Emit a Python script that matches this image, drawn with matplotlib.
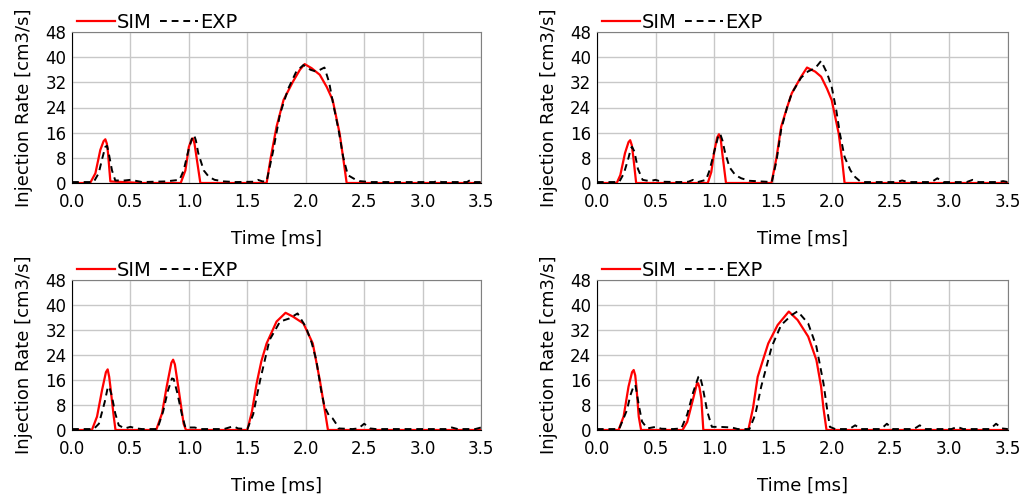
"""
Injection rate traces, simulation vs experiment, for four injection strategies.
"""

import matplotlib
matplotlib.use('Agg')
import matplotlib.pyplot as plt
from matplotlib.ticker import MultipleLocator

# Panel A (top left)
sim_a_t = [0.0, 0.155, 0.2, 0.242, 0.27, 0.285, 0.298, 0.308, 0.328, 0.6, 0.93, 0.97, 1.0,
           1.025, 1.035, 1.048, 1.06, 1.098,
           1.665, 1.70, 1.75, 1.81, 1.89, 1.95, 1.99, 2.05, 2.12, 2.18, 2.23, 2.29, 2.32, 2.35, 3.5]
sim_a_q = [0, 0, 3.1, 10.5, 13.3, 13.9, 12.5, 9.5, 0.5, 0, 0, 4, 11.5,
           14, 14.2, 12.5, 9.5, 0,
           0, 8, 17.9, 26.4, 32.2, 36, 37.8, 36.5, 34.4, 30.5, 26.4, 15.7, 8, 0, 0]
exp_a_t = [0.0, 0.185, 0.228, 0.26, 0.285, 0.3, 0.314, 0.342, 0.37, 0.45, 0.5, 0.6, 0.8,
           0.92, 0.955, 1.0, 1.03, 1.045, 1.06, 1.08, 1.127, 1.17, 1.22, 1.3, 1.4, 1.55, 1.59,
           1.63, 1.665, 1.72, 1.78, 1.85, 1.92, 1.98, 2.04, 2.09, 2.16, 2.2, 2.23, 2.28, 2.32,
           2.36, 2.42, 2.46, 2.55, 3.1, 3.13, 3.16, 3.38, 3.41, 3.44, 3.5]
exp_a_q = [0.3, 0.3, 3.1, 8, 11.5, 11.8, 9.5, 4, 0.8, 0.8, 1, 0.3, 0.5,
           1, 4, 11, 14.5, 15.2, 13.5, 9.5, 4, 2, 1, 0.5, 0.3, 0.4, 1,
           0.5, 0.5, 10, 22, 30, 35.5, 37.5, 36, 35.4, 36.7, 32, 26, 17, 8.3,
           2.5, 1.2, 0.6, 0.3, 0.3, 0.8, 0.3, 0.3, 1, 0.3, 0.3]

# Panel B (top right)
sim_b_t = [0, 0.17, 0.2, 0.24, 0.27, 0.284, 0.298, 0.31, 0.335, 0.945, 0.975, 1.0, 1.025,
           1.04, 1.055, 1.07, 1.1,
           1.487, 1.53, 1.57, 1.62, 1.66, 1.74, 1.79, 1.86, 1.91, 1.96, 2.0, 2.06, 2.09, 2.11, 3.5]
sim_b_q = [0, 0, 2.5, 9.5, 13, 13.6, 12, 8.5, 0, 0, 3.5, 10, 14.5,
           15.5, 14, 9, 0,
           0, 8, 17.9, 24, 28.5, 33.8, 36.7, 35.4, 33.8, 30, 26.4, 15.7, 7, 0, 0]
exp_b_t = [0, 0.19, 0.23, 0.27, 0.29, 0.30, 0.32, 0.35, 0.39, 0.45, 0.5, 0.55, 0.7, 0.78,
           0.82, 0.86, 0.93, 0.96, 1.0, 1.035, 1.05, 1.07, 1.09, 1.13, 1.18, 1.23, 1.3, 1.49,
           1.53, 1.57, 1.62, 1.66, 1.74, 1.80, 1.86, 1.91, 1.96, 2.0, 2.04, 2.07, 2.11, 2.16,
           2.2, 2.25, 2.55, 2.6, 2.65, 2.85, 2.9, 2.95, 3.15, 3.2, 3.25, 3.42, 3.46, 3.5]
exp_b_q = [0.3, 0.3, 3, 8, 11, 11.5, 10, 4.5, 1, 0.6, 1, 0.4, 0.3, 0.4,
           1, 0.3, 1, 4, 10, 15, 15.7, 13.5, 10, 5, 2.5, 1.5, 0.7, 0.3,
           7, 17, 24, 28.5, 33.5, 35.5, 36.5, 38.8, 35, 30.6, 23, 15.7, 8.3, 4,
           1.9, 0.3, 0.3, 0.8, 0.3, 0.3, 1.5, 0.3, 0.3, 1, 0.3, 0.3, 0.6, 0.3]

# Panel C (bottom left)
sim_c_t = [0, 0.17, 0.214, 0.257, 0.29, 0.305, 0.318, 0.328, 0.357, 0.372, 0.72, 0.77, 0.81,
           0.85, 0.865, 0.88, 0.913, 0.955, 0.975,
           1.5, 1.54, 1.58, 1.62, 1.665, 1.75, 1.827, 1.89, 1.98, 2.06, 2.12, 2.16, 2.19, 3.5]
sim_c_q = [0, 0, 4.3, 12.8, 18.5, 19.4, 17, 13.9, 4.3, 0, 0, 5.3, 13.9,
           21.5, 22.5, 21, 12.8, 2, 0,
           0, 6, 15, 22, 27.7, 34.7, 37.5, 36.3, 34.1, 27.7, 16, 7, 0, 0]
exp_c_t = [0, 0.185, 0.23, 0.28, 0.305, 0.318, 0.34, 0.37, 0.4, 0.45, 0.5, 0.55, 0.6, 0.73,
           0.78, 0.82, 0.855, 0.87, 0.9, 0.94, 0.97, 1.05, 1.1, 1.3, 1.38, 1.42, 1.5, 1.55,
           1.61, 1.69, 1.78, 1.86, 1.93, 2.0, 2.05, 2.09, 2.13, 2.16, 2.2, 2.23, 2.26, 2.28,
           2.4, 2.45, 2.5, 2.55, 2.6, 3.2, 3.25, 3.3, 3.45, 3.5]
exp_c_q = [0.3, 0.3, 2, 9, 13.5, 13.9, 11, 5.3, 1.5, 0.5, 1, 0.5, 0.3, 0.3,
           6, 12.5, 16.5, 16.3, 12, 5, 0.8, 0.8, 0.3, 0.3, 1.2, 0.5, 0.3, 5,
           16, 28.8, 34.7, 35.7, 37.3, 33, 28, 22.4, 13, 7.5, 4.5, 3.7, 2, 0.5,
           0.3, 0.5, 2, 0.5, 0.3, 0.3, 0.8, 0.3, 0.3, 0.8]

# Panel D (bottom right)
sim_d_t = [0, 0.185, 0.228, 0.27, 0.3, 0.314, 0.327, 0.337, 0.357, 0.377, 0.73, 0.77, 0.827,
           0.852, 0.862, 0.875, 0.89, 0.907,
           1.29, 1.33, 1.37, 1.42, 1.46, 1.54, 1.635, 1.71, 1.80, 1.87, 1.91, 1.93, 1.956, 3.5]
sim_d_q = [0, 0, 4.3, 13.9, 18.5, 19.2, 17.5, 13.9, 4.3, 0, 0, 2.6, 11,
           14.8, 15, 13.5, 10, 0,
           0, 7, 17, 23, 27.7, 33.6, 37.9, 35.2, 29.9, 22.4, 13.9, 7, 0, 0]
exp_d_t = [0, 0.19, 0.257, 0.285, 0.315, 0.328, 0.34, 0.357, 0.385, 0.43, 0.5, 0.55, 0.65,
           0.72, 0.77, 0.82, 0.865, 0.878, 0.9, 0.94, 0.98, 1.05, 1.15, 1.2, 1.30, 1.35, 1.40,
           1.49, 1.57, 1.66, 1.71, 1.80, 1.87, 1.93, 1.96, 1.985, 2.03, 2.15, 2.2, 2.25, 2.42,
           2.47, 2.52, 2.7, 2.75, 2.8, 3.02, 3.07, 3.12, 3.35, 3.4, 3.45, 3.5]
exp_d_q = [0.3, 0.3, 6.4, 11, 14.2, 14.4, 12, 8, 2.7, 0.5, 1, 0.4, 0.3,
           0.5, 5, 12, 17, 17.3, 14, 6, 1, 1, 0.8, 0.3, 0.3, 5, 13.9,
           26.7, 33.6, 36.8, 38, 34.1, 26.7, 15, 7, 1, 0.3, 0.3, 1.5, 0.3, 0.3,
           2, 0.3, 0.3, 1.5, 0.3, 0.3, 1, 0.3, 0.3, 2, 0.5, 0.3]

PANELS = [
    (sim_a_t, sim_a_q, exp_a_t, exp_a_q),
    (sim_b_t, sim_b_q, exp_b_t, exp_b_q),
    (sim_c_t, sim_c_q, exp_c_t, exp_c_q),
    (sim_d_t, sim_d_q, exp_d_t, exp_d_q),
]
# axes rectangles in figure fractions [left, bottom, width, height]
RECTS = [
    [0.070, 0.634, 0.3975, 0.302],
    [0.580, 0.634, 0.3994, 0.302],
    [0.070, 0.140, 0.3975, 0.300],
    [0.580, 0.140, 0.3994, 0.300],
]


def main():
    plt.rcParams['font.family'] = ['DejaVu Sans']
    plt.rcParams['font.size'] = 13
    fig = plt.figure(figsize=(10.29, 5.0), dpi=100)
    for rect, (st, sq, et, eq) in zip(RECTS, PANELS):
        ax = fig.add_axes(rect)
        ax.plot(st, sq, color='#ff0000', lw=1.6, label='SIM', zorder=3)
        ax.plot(et, eq, color='black', lw=1.4, ls=(0, (3.5, 2.5)), label='EXP', zorder=4)
        ax.set_xlim(0, 3.5)
        ax.set_ylim(0, 48)
        ax.xaxis.set_major_locator(MultipleLocator(0.5))
        ax.yaxis.set_major_locator(MultipleLocator(8))
        ax.xaxis.set_major_formatter(plt.FormatStrFormatter('%.1f'))
        ax.grid(True, color='#c8c8c8', lw=1)
        ax.set_axisbelow(True)
        ax.tick_params(length=0, labelsize=12)
        ax.tick_params(axis='y', pad=4)
        ax.tick_params(axis='x', pad=7.5)
        for side in ('top', 'right'):
            ax.spines[side].set_color('#808080')
        for side in ('left', 'bottom'):
            ax.spines[side].set_color('black')
        ax.set_xlabel('Time [ms]', labelpad=13)
        ax.set_ylabel('Injection Rate [cm3/s]', labelpad=9)
        ax.legend(loc='lower left', bbox_to_anchor=(0.012, 1.0), ncol=2, frameon=False,
                  borderaxespad=0, borderpad=0.0, handlelength=1.95, handletextpad=0.1,
                  columnspacing=0.45, fontsize=14)
    fig.savefig('out.png', dpi=100)
    plt.close(fig)


if __name__ == '__main__':
    main()
